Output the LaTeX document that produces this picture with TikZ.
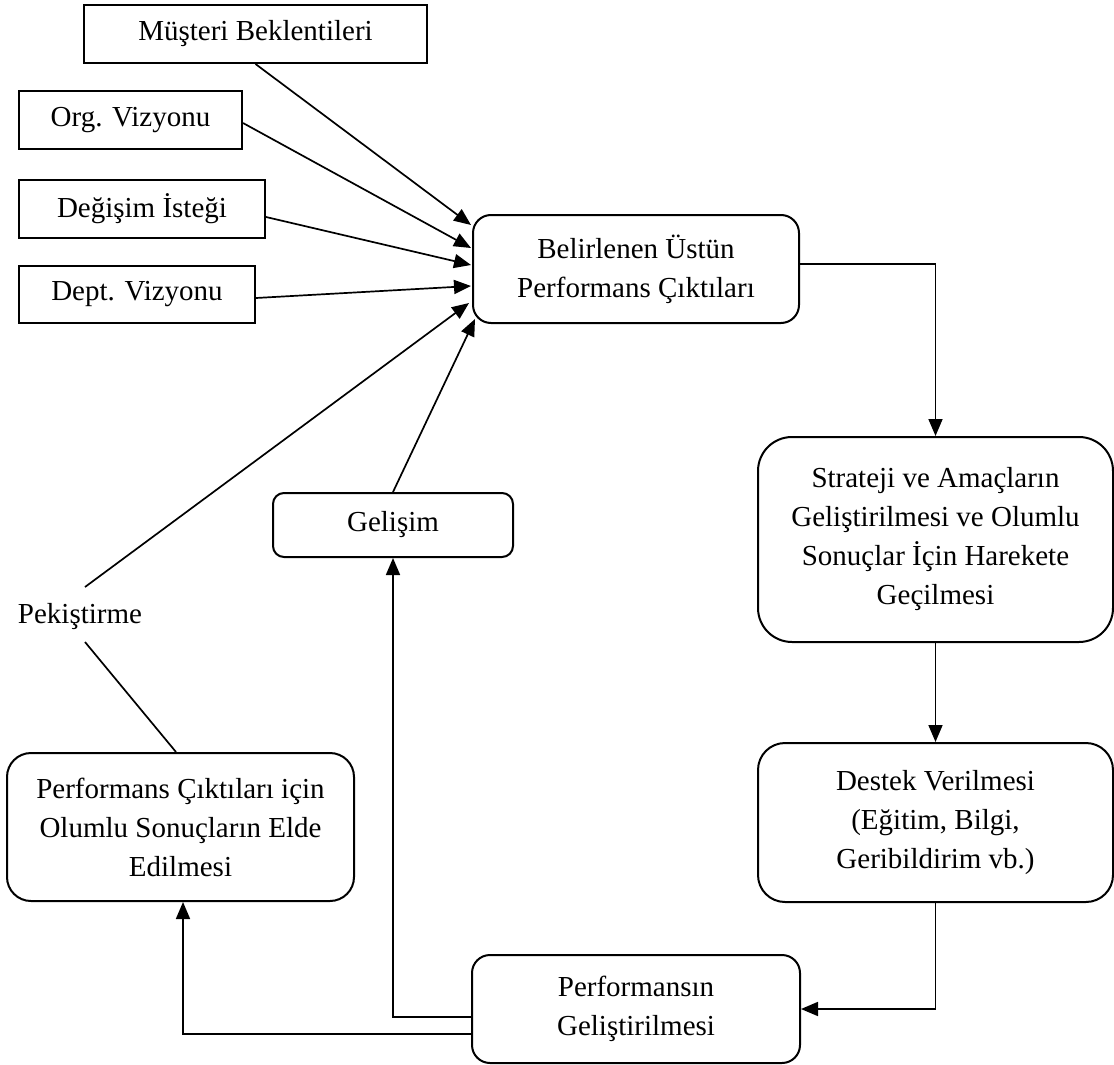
\documentclass[tikz,border=0pt]{standalone}
\usepackage{fontspec}
\setmainfont{Liberation Serif}
\usetikzlibrary{arrows.meta,calc}
\begin{document}
\begin{tikzpicture}[x=1pt,y=-1pt,
  font=\fontsize{29}{39}\selectfont,
  sqbox/.style={draw,line width=2pt,inner sep=0pt,align=center},
  rbox/.style={draw,line width=2pt,inner sep=0pt,align=center,rounded corners=#1},
  rbox/.default=18pt,
  link/.style={line width=1.7pt},
  arr/.style={link,-{Triangle[length=17pt,width=14pt]}}
]
\useasboundingbox (0,0) rectangle (1114,1065);

% input boxes on the left
\node[sqbox,minimum width=343pt,minimum height=58pt] (mus) at (255.5,34) {Müşteri Beklentileri};
\node[sqbox,minimum width=223pt,minimum height=58pt] (org) at (130.5,120) {Org. Vizyonu};
\node[sqbox,minimum width=246pt,minimum height=58pt] (deg) at (142,209) {Değişim İsteği};
\node[sqbox,minimum width=236pt,minimum height=57pt] (dep) at (137,294.5) {Dept. Vizyonu};

% main cycle
\node[rbox=18pt,minimum width=326pt,minimum height=108pt] (bel) at (636,269) {Belirlenen Üstün\\Performans Çıktıları};
\node[rbox=34pt,minimum width=355pt,minimum height=205pt] (str) at (935.5,539.5) {Strateji ve Amaçların\\Geliştirilmesi ve Olumlu\\Sonuçlar İçin Harekete\\Geçilmesi};
\node[rbox=27pt,minimum width=355pt,minimum height=159pt] (des) at (935.5,822.5) {Destek Verilmesi\\(Eğitim, Bilgi,\\Geribildirim vb.)};
\node[rbox=18pt,minimum width=328pt,minimum height=108pt] (pg) at (636,1009) {Performansın\\Geliştirilmesi};
\node[rbox=24pt,minimum width=347pt,minimum height=148pt] (ol) at (180.5,827) {Performans Çıktıları için\\Olumlu Sonuçların Elde\\Edilmesi};
\node[rbox=11pt,minimum width=240pt,minimum height=64pt] (gel) at (393,525) {Gelişim};

% reinforcement label
\node[inner sep=0pt,anchor=base] (pek) at (80,623) {Pekiştirme};
\coordinate (pekT) at (85,587);
\coordinate (pekB) at (85,642);

% arrows into the target box
\draw[arr] (mus.south) -- ($(bel.west)+(-1,-44)$);
\draw[arr] ($(org.east)+(0,3)$) -- ($(bel.west)+(-1,-21)$);
\draw[arr] ($(deg.east)+(0,8)$) -- ($(bel.west)+(-1,-4)$);
\draw[arr] ($(dep.east)+(0,3.5)$) -- ($(bel.west)+(-1,17)$);
\draw[arr] (pekT) -- ($(bel.west)+(-3,34)$);
\draw[arr] (gel.north) -- ($(bel.south west)+(3,-5)$);

% cycle connectors
\draw[arr] ($(bel.east)+(0,-5)$) -| (str.north);
\draw[arr] (str.south) -- (des.north);
\draw[arr] (des.south) |- (pg.east);
\draw[arr] ($(pg.west)+(0,8)$) -| (gel.south);
\draw[arr] ($(pg.west)+(0,25)$) -| ($(ol.south)+(2.5,0)$);
\draw[link] (pekB) -- ($(ol.north)+(-4.5,0)$);
\end{tikzpicture}
\end{document}
